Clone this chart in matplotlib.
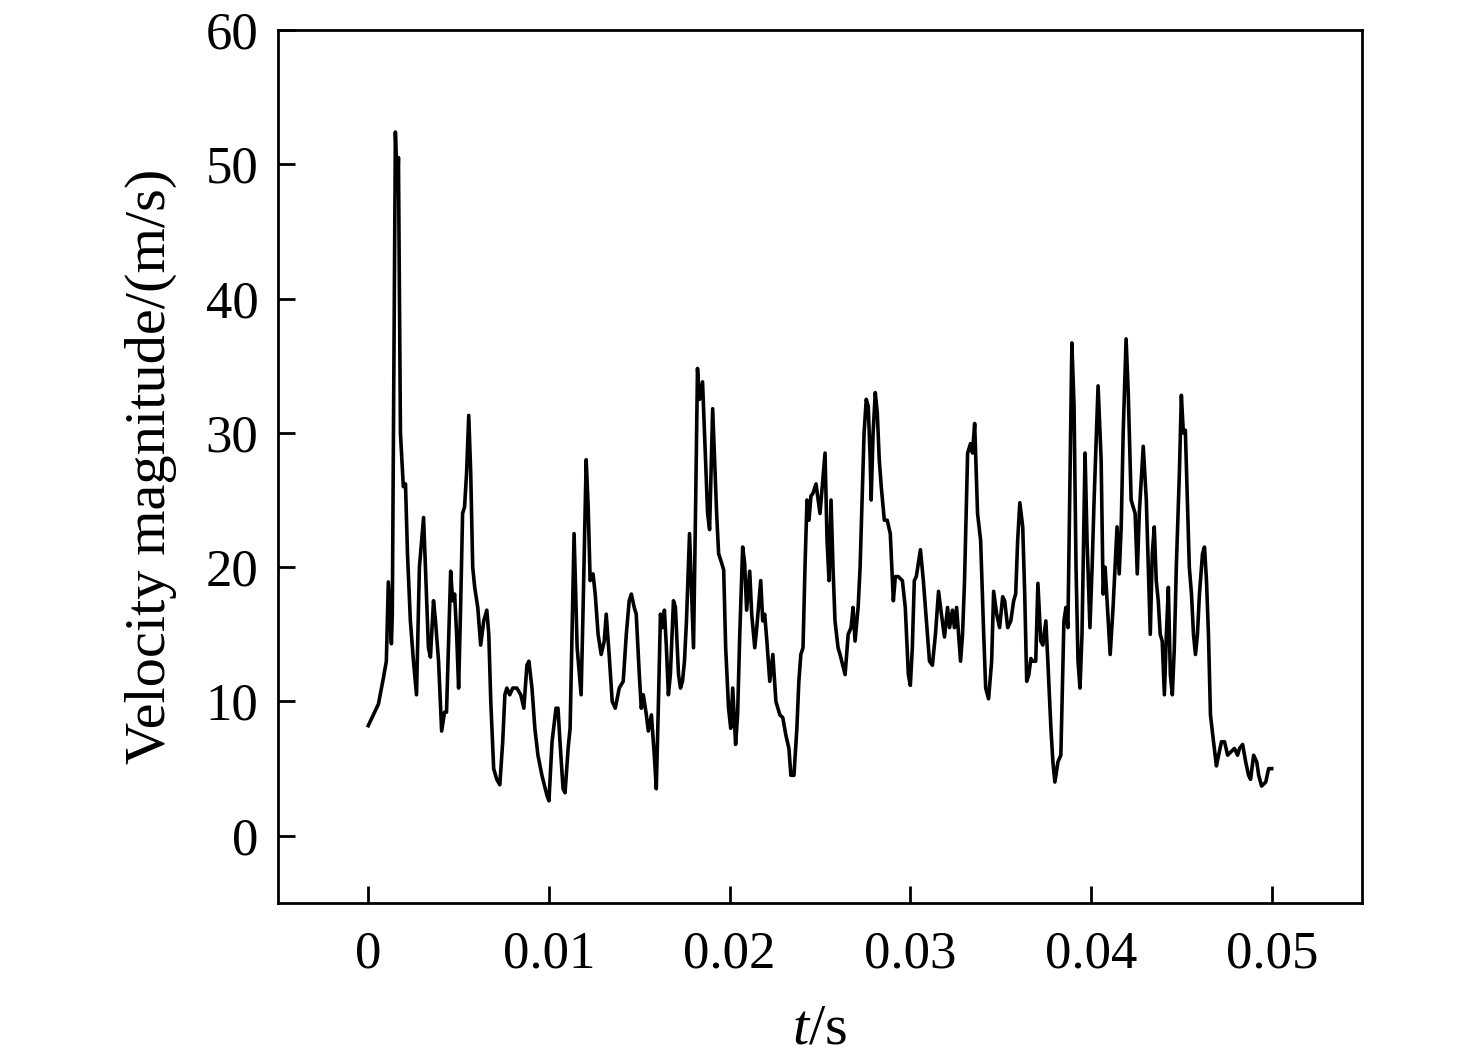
#%%
import matplotlib
matplotlib.use("Agg")
import matplotlib.pyplot as plt
import numpy as np

# time in ms, velocity magnitude in m/s
t_ms = [
    0.00, 0.28, 0.56, 0.83, 1.00, 1.11, 1.28, 1.33, 1.50, 1.61, 1.67, 1.78, 1.94,
    2.06, 2.17, 2.33, 2.50, 2.67, 2.83, 3.06, 3.33, 3.44, 3.61, 3.72, 3.89, 4.06,
    4.22, 4.33, 4.56, 4.67, 4.78, 4.89, 5.00, 5.11, 5.22, 5.33, 5.44, 5.56, 5.67,
    5.78, 5.89, 6.06, 6.22, 6.39, 6.56, 6.67, 6.78, 6.94, 7.11, 7.28, 7.44, 7.56,
    7.67, 7.83, 8.00, 8.22, 8.44, 8.61, 8.78, 8.89, 9.06, 9.22, 9.39, 9.61, 9.89,
    10.00, 10.17, 10.39, 10.50, 10.61, 10.78, 10.89, 11.06, 11.17, 11.39, 11.56,
    11.78, 11.89, 12.06, 12.17, 12.28, 12.44, 12.56, 12.72, 12.89, 13.06, 13.17,
    13.33, 13.50, 13.67, 13.89, 14.11, 14.28, 14.44, 14.56, 14.72, 14.83, 15.00,
    15.11, 15.22, 15.39, 15.50, 15.67, 15.83, 15.94, 16.06, 16.17, 16.28, 16.39,
    16.50, 16.61, 16.72, 16.89, 17.00, 17.17, 17.28, 17.39, 17.50, 17.61, 17.78,
    18.00, 18.11, 18.22, 18.33, 18.50, 18.61, 18.78, 18.89, 19.06, 19.17, 19.28,
    19.39, 19.56, 19.67, 19.78, 19.94, 20.06, 20.17, 20.33, 20.44, 20.56, 20.72,
    20.83, 20.94, 21.11, 21.22, 21.39, 21.50, 21.72, 21.83, 21.94, 22.06, 22.22,
    22.39, 22.56, 22.78, 22.94, 23.11, 23.28, 23.39, 23.56, 23.72, 23.83, 23.94,
    24.06, 24.17, 24.28, 24.39, 24.50, 24.61, 24.78, 25.00, 25.28, 25.39, 25.50,
    25.61, 25.72, 25.83, 26.00, 26.11, 26.39, 26.56, 26.72, 26.83, 26.94, 27.11,
    27.22, 27.33, 27.44, 27.56, 27.67, 27.78, 27.83, 27.94, 28.06, 28.17, 28.28,
    28.39, 28.56, 28.72, 28.89, 29.06, 29.17, 29.33, 29.56, 29.72, 29.89, 30.00,
    30.11, 30.22, 30.33, 30.56, 30.72, 30.89, 31.06, 31.22, 31.39, 31.56, 31.72,
    31.89, 32.06, 32.17, 32.33, 32.44, 32.56, 32.78, 32.89, 33.00, 33.17, 33.33,
    33.44, 33.56, 33.72, 33.89, 34.06, 34.17, 34.33, 34.50, 34.61, 34.78, 34.94,
    35.11, 35.22, 35.39, 35.56, 35.72, 35.83, 35.94, 36.06, 36.22, 36.33, 36.44,
    36.56, 36.67, 36.78, 36.94, 37.06, 37.22, 37.33, 37.50, 37.61, 37.78, 37.89,
    38.00, 38.17, 38.33, 38.50, 38.61, 38.72, 38.94, 39.06, 39.17, 39.28, 39.39,
    39.50, 39.67, 39.78, 39.94, 40.06, 40.17, 40.39, 40.56, 40.67, 40.78, 40.89,
    41.06, 41.22, 41.33, 41.44, 41.56, 41.67, 41.78, 41.94, 42.06, 42.22, 42.33,
    42.44, 42.56, 42.67, 42.89, 43.06, 43.17, 43.28, 43.39, 43.50, 43.61, 43.72,
    43.83, 43.94, 44.06, 44.17, 44.28, 44.39, 44.50, 44.61, 44.72, 44.89, 45.00,
    45.11, 45.22, 45.33, 45.44, 45.56, 45.67, 45.78, 45.89, 46.00, 46.17, 46.28,
    46.39, 46.50, 46.61, 46.78, 46.94, 47.06, 47.22, 47.39, 47.56, 47.78, 47.94,
    48.11, 48.22, 48.39, 48.56, 48.72, 48.83, 49.00, 49.17, 49.28, 49.44, 49.67,
    49.83, 50.00,
]
velocity = [
    8.2, 9.0, 9.8, 11.7, 13.0, 18.9, 14.3, 16.5, 52.4, 48.0, 50.5, 30.0, 26.0,
    26.2, 21.0, 16.0, 13.0, 10.5, 20.0, 23.7, 14.0, 13.3, 17.5, 16.0, 13.0, 7.8,
    9.2, 9.2, 19.7, 17.5, 18.0, 15.0, 11.0, 17.0, 24.0, 24.5, 27.0, 31.3, 27.0,
    20.0, 18.5, 17.0, 14.2, 16.0, 16.8, 15.0, 10.0, 5.0, 4.2, 3.8, 7.0, 10.5,
    11.0, 10.5, 11.0, 11.0, 10.5, 9.5, 12.7, 13.0, 11.0, 8.0, 6.0, 4.5, 3.0,
    2.6, 7.0, 9.5, 9.5, 7.0, 3.5, 3.2, 6.5, 8.0, 22.5, 14.0,
    10.5, 17.0, 28.0, 24.5, 19.0, 19.5, 18.0, 15.0, 13.5, 14.5, 16.5,
    13.5, 10.0, 9.5, 11.0, 11.5, 15.0, 17.5, 18.0, 17.0, 16.5, 12.0,
    9.5, 10.5, 9.0, 7.8, 9.0, 6.0, 3.5, 10.0, 16.5, 15.5, 16.8,
    14.0, 10.5, 12.0, 17.5, 17.0, 12.0, 11.0, 11.5, 13.0, 16.0, 22.5,
    14.0, 24.0, 34.8, 32.5, 33.8, 30.0, 24.0, 22.8, 31.8, 28.0, 24.0,
    21.0, 20.3, 19.8, 14.0, 9.5, 8.0, 11.0, 6.8, 9.0, 15.0, 21.5,
    20.3, 16.8, 19.7, 16.5, 14.0, 15.5, 19.0, 16.0, 16.5, 14.5, 11.5,
    13.5, 10.0, 9.0, 8.8, 7.5, 6.5, 4.5, 4.5, 8.0, 11.5, 13.5,
    14.0, 20.0, 25.0, 23.5, 25.3, 25.5, 26.2, 24.0, 28.5, 22.0, 19.0,
    25.0, 20.0, 16.0, 14.0, 13.5, 12.0, 15.0, 15.5, 17.0, 14.5, 17.0,
    20.0, 25.0, 30.0, 32.5, 32.0, 28.0, 25.0, 30.0, 33.0, 31.5, 28.0,
    26.0, 23.5, 23.5, 22.5, 17.5, 19.3, 19.3, 19.0, 17.0, 12.0, 11.2,
    14.0, 19.0, 19.3, 21.3, 19.0, 16.0, 13.0, 12.7, 15.0, 18.2, 16.5,
    14.8, 17.0, 15.5, 16.8, 15.5, 17.0, 13.0, 15.0, 19.0, 28.5, 29.2,
    28.5, 30.7, 24.0, 22.0, 15.0, 11.0, 10.2, 13.0, 18.2, 16.5, 15.5,
    17.8, 17.5, 15.5, 16.0, 17.5, 18.0, 22.0, 24.8, 23.0, 18.0, 11.5,
    12.0, 13.2, 13.0, 13.0, 18.8, 14.5, 14.2, 16.0, 13.0, 8.0, 5.5,
    4.0, 5.5, 6.0, 16.0, 17.0, 15.5, 36.7, 32.0, 20.0, 13.0, 11.0,
    15.0, 28.5, 22.0, 15.5, 20.0, 25.0, 33.5, 28.0, 18.0, 20.0, 17.5,
    13.5, 17.0, 20.0, 23.0, 19.5, 23.0, 30.0, 37.0, 33.0, 25.0, 24.5,
    24.0, 19.5, 24.0, 29.0, 25.0, 20.0, 15.0, 21.0, 23.0, 19.0, 17.5,
    15.0, 14.5, 10.5, 15.0, 18.5, 12.0, 10.5, 14.0, 20.0, 27.0, 32.8,
    30.0, 30.2, 25.0, 20.0, 18.0, 15.0, 13.5, 15.0, 18.0, 21.0, 21.5,
    19.0, 15.0, 9.0, 7.0, 5.2, 6.0, 7.0, 7.0, 6.0, 6.3, 6.5,
    6.0, 6.5, 6.8, 5.5, 4.5, 4.2, 6.0, 5.5, 4.5, 3.7, 4.0,
    5.0, 5.0,
]

x_ticks = [0, 0.01, 0.02, 0.03, 0.04, 0.05]
x_tick_labels = ["0", "0.01", "0.02", "0.03", "0.04", "0.05"]
y_ticks = [0, 10, 20, 30, 40, 50, 60]

#%%
plt.rcParams["font.family"] = ["Liberation Serif", "DejaVu Serif"]
plt.rcParams["mathtext.fontset"] = "custom"
plt.rcParams["mathtext.it"] = "Liberation Serif:italic"
plt.rcParams["mathtext.rm"] = "Liberation Serif"

fig = plt.figure(figsize=(14.76, 10.61), dpi=100)
ax = fig.add_axes([0.1883, 0.149, 0.7345, 0.8227])

t = np.array(t_ms) / 1000.0
ax.plot(t, velocity, color="black", linewidth=2.6)

ax.set_xlim(-0.005, 0.055)
ax.set_ylim(-5, 60)
ax.set_xticks(x_ticks)
ax.set_xticklabels(x_tick_labels)
ax.set_yticks(y_ticks)

for s in ax.spines.values():
    s.set_linewidth(2.0)
ax.tick_params(direction="in", length=12, width=2.0, labelsize=38)
ax.tick_params(axis="x", pad=20)
ax.tick_params(axis="y", pad=14)

ax.set_xlabel(r"$t$/s", fontsize=42, labelpad=18)
ax.set_ylabel("Velocity magnitude/(m/s)", fontsize=42, labelpad=21)

fig.savefig("out.png", dpi=100)
